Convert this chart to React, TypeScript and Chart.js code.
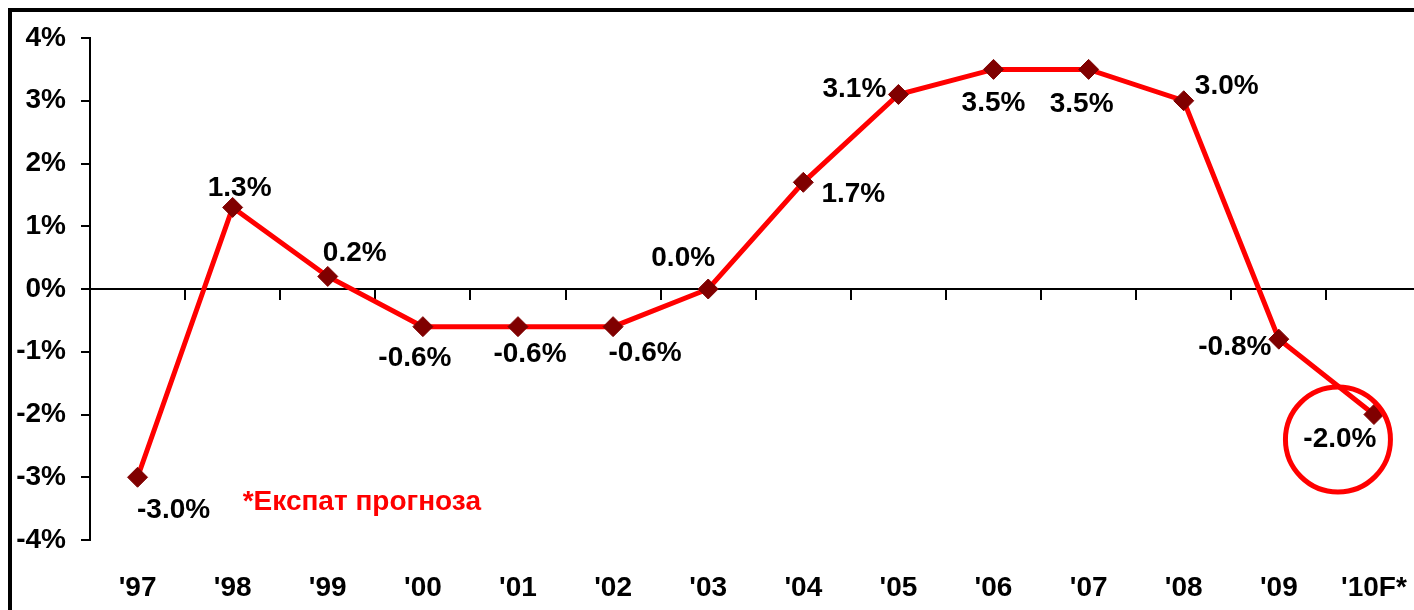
import { useEffect, useRef } from "react";
import { Chart, registerables } from "chart.js";

Chart.register(...registerables);

// Annual values, percent
const YEARS = ["'97", "'98", "'99", "'00", "'01", "'02", "'03", "'04", "'05", "'06", "'07", "'08", "'09", "'10F*"];
const GROWTH = [-3.0, 1.3, 0.2, -0.6, -0.6, -0.6, 0.0, 1.7, 3.1, 3.5, 3.5, 3.0, -0.8, -2.0];
const Y_MIN = -4;
const Y_MAX = 4;
const Y_STEP = 1;
const FORECAST_NOTE = "*Експат прогноза";
const FORECAST_INDEX = 13;

// Where each value label sits relative to its marker (px)
const LABEL_OFFSETS: [number, number][] = [
  [36, 33], [7, -19], [27, -23], [-8, 32], [12, 28], [32, 27], [-25, -31],
  [50, 12], [-44, -5], [0, 34], [-7, 35], [43, -14], [-44, 8], [-34, 25],
];

const FONT = '"Liberation Sans", Arial, Helvetica, sans-serif';
const RED = "#ff0000";
const MARKER = "#800000";
const CANVAS_W = 1424;
const CANVAS_H = 610;

const overlayPlugin = {
  id: "valueLabels",
  afterDatasetsDraw(chart: any) {
    const { ctx } = chart;
    const meta = chart.getDatasetMeta(0);
    ctx.save();
    ctx.font = `bold 28px ${FONT}`;
    ctx.fillStyle = "#000";
    ctx.textAlign = "center";
    ctx.textBaseline = "middle";
    meta.data.forEach((pt: any, i: number) => {
      const [dx, dy] = LABEL_OFFSETS[i];
      ctx.fillText(`${GROWTH[i].toFixed(1)}%`, pt.x + dx, pt.y + dy);
    });

    // ring around the forecast value
    const fp = meta.data[FORECAST_INDEX];
    const [fx, fy] = LABEL_OFFSETS[FORECAST_INDEX];
    ctx.beginPath();
    ctx.arc(fp.x + fx - 2, fp.y + fy, 52.5, 0, Math.PI * 2);
    ctx.strokeStyle = RED;
    ctx.lineWidth = 5;
    ctx.stroke();

    // forecast footnote
    const xs = chart.scales.x;
    const ys = chart.scales.y;
    ctx.font = `bold 28px ${FONT}`;
    ctx.fillStyle = RED;
    ctx.textAlign = "left";
    ctx.fillText(FORECAST_NOTE, xs.getPixelForValue(1) + 10, ys.getPixelForValue(-3.4));
    ctx.restore();
  },
};

export default function App() {
  const canvasRef = useRef<HTMLCanvasElement | null>(null);

  useEffect(() => {
    if (!canvasRef.current) return;
    const tickFont = { family: FONT, size: 28, weight: "bold" as const };
    const chart = new Chart(canvasRef.current, {
      type: "line",
      data: {
        labels: YEARS,
        datasets: [
          {
            data: GROWTH,
            xAxisID: "x",
            yAxisID: "y",
            borderColor: RED,
            borderWidth: 5,
            tension: 0,
            fill: false,
            pointStyle: "rectRot",
            pointRadius: 10,
            pointHoverRadius: 10,
            pointBackgroundColor: MARKER,
            pointBorderColor: MARKER,
            pointBorderWidth: 1,
          },
        ],
      },
      options: {
        responsive: false,
        maintainAspectRatio: false,
        animation: false,
        events: [],
        layout: { autoPadding: false, padding: { top: 38, right: 2.5, bottom: 0, left: 0 } },
        plugins: { legend: { display: false }, tooltip: { enabled: false } },
        scales: {
          x: {
            type: "category",
            position: "bottom",
            offset: true,
            grid: { display: false, drawTicks: false },
            border: { display: false },
            ticks: { font: tickFont, color: "#000", padding: 31, maxRotation: 0, autoSkip: false },
            afterFit(s: any) {
              s.height = 70;
              s.paddingLeft = 0;
              s.paddingRight = 0;
            },
          },
          xZero: {
            type: "category",
            axis: "x",
            position: { y: 0 },
            offset: true,
            grid: {
              display: true,
              offset: true,
              drawOnChartArea: false,
              drawTicks: true,
              tickLength: 10,
              color: "#000",
              lineWidth: 2,
            },
            border: { display: true, color: "#000", width: 2 },
            ticks: { display: false },
            afterFit(s: any) {
              s.paddingLeft = 0;
              s.paddingRight = 0;
            },
          },
          y: {
            type: "linear",
            position: "left",
            min: Y_MIN,
            max: Y_MAX,
            ticks: {
              stepSize: Y_STEP,
              font: tickFont,
              color: "#000",
              padding: 15,
              callback: (v: any) => `${v}%`,
            },
            grid: { drawOnChartArea: false, drawTicks: true, tickLength: 9, color: "#000", lineWidth: 2 },
            border: { display: true, color: "#000", width: 2 },
            afterFit(s: any) {
              s.width = 90;
              s.paddingTop = 0;
              s.paddingBottom = 0;
            },
          },
        },
      } as any,
      plugins: [overlayPlugin],
    });
    return () => chart.destroy();
  }, []);

  return (
    <div
      style={{
        position: "fixed",
        left: 0,
        top: 0,
        width: 1414,
        height: 610,
        overflow: "hidden",
        background: "#fff",
      }}
    >
      <div style={{ position: "absolute", left: 0, top: 0, width: CANVAS_W, height: CANVAS_H }}>
        <canvas
          ref={canvasRef}
          width={CANVAS_W}
          height={CANVAS_H}
          style={{ display: "block", width: CANVAS_W, height: CANVAS_H }}
        />
      </div>
      <div
        style={{
          position: "absolute",
          left: 8,
          top: 8,
          width: 1430,
          height: 640,
          borderTop: "4px solid #000",
          borderLeft: "4px solid #000",
          pointerEvents: "none",
        }}
      />
    </div>
  );
}
